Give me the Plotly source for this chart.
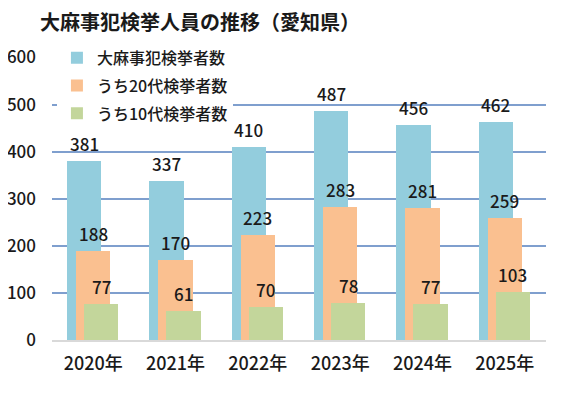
import plotly.graph_objects as go

categories = ["2020年", "2021年", "2022年", "2023年", "2024年", "2025年"]
total = [381, 337, 410, 487, 456, 462]
age20 = [188, 170, 223, 283, 281, 259]
age10 = [77, 61, 70, 78, 77, 103]
series_names = ["大麻事犯検挙者数", "うち20代検挙者数", "うち10代検挙者数"]
y_ticks = [0, 100, 200, 300, 400, 500, 600]

colors = ["#93cddd", "#fac090", "#c3d69b"]
offsets = [-0.317, -0.207, -0.11]
width = 0.415
FONT = "Noto Sans CJK JP, Noto Sans, sans-serif"

# the page body adds an 8px margin, so the figure is sized to fill the rest
W, H = 553, 411

fig = go.Figure()
annotations = []
cat_px = 82.3
for i, (name, vals) in enumerate(zip(series_names, [total, age20, age10])):
    fig.add_trace(go.Bar(
        x=categories, y=vals, name=name,
        marker=dict(color=colors[i], line=dict(width=0)),
        width=width, offset=offsets[i],
        legendgroup=f"g{i}",
        hoverinfo="skip",
    ))
    shift = (offsets[i] + width / 2) * cat_px
    for c, v in zip(categories, vals):
        annotations.append(dict(
            x=c, y=v, xref="x", yref="y", text=str(v), showarrow=False,
            xanchor="center", yanchor="bottom", xshift=shift, yshift=3,
            font=dict(family=FONT, size=17, color="#1a1a1a", weight=500),
        ))

fig.update_layout(
    width=W, height=H,
    margin=dict(l=44, r=15, t=48.5, b=79, autoexpand=False),
    paper_bgcolor="white", plot_bgcolor="white",
    barmode="overlay",
    showlegend=True,
    title=dict(text="<b>大麻事犯検挙人員の推移（愛知県）</b>", x=32/W, xanchor="left",
               y=1 - 15/H, yanchor="middle",
               font=dict(family=FONT, size=20, color="#1a1a1a")),
    legend=dict(x=0.01, y=1.057, xanchor="left", yanchor="top",
                bgcolor="white", traceorder="grouped", tracegroupgap=4,
                font=dict(family=FONT, size=16, color="#1a1a1a", weight=500),
                itemwidth=30),
    annotations=annotations,
    bargap=0,
)
fig.update_xaxes(
    type="category", range=[-0.5, 5.5], showgrid=False, automargin=False,
    showline=True, linecolor="#d9d9d9", linewidth=2,
    ticks="", ticklabelstandoff=6,
    tickfont=dict(family=FONT, size=18, color="#1a1a1a", weight=500),
)
fig.update_yaxes(
    range=[0, 601], tickvals=y_ticks, showgrid=True, gridcolor="#7f9fce", gridwidth=1.5,
    zeroline=False, showline=False, ticks="", ticklabelstandoff=15, automargin=False,
    tickfont=dict(family=FONT, size=17, color="#1a1a1a", weight=500),
)

fig.write_html("out.html")
